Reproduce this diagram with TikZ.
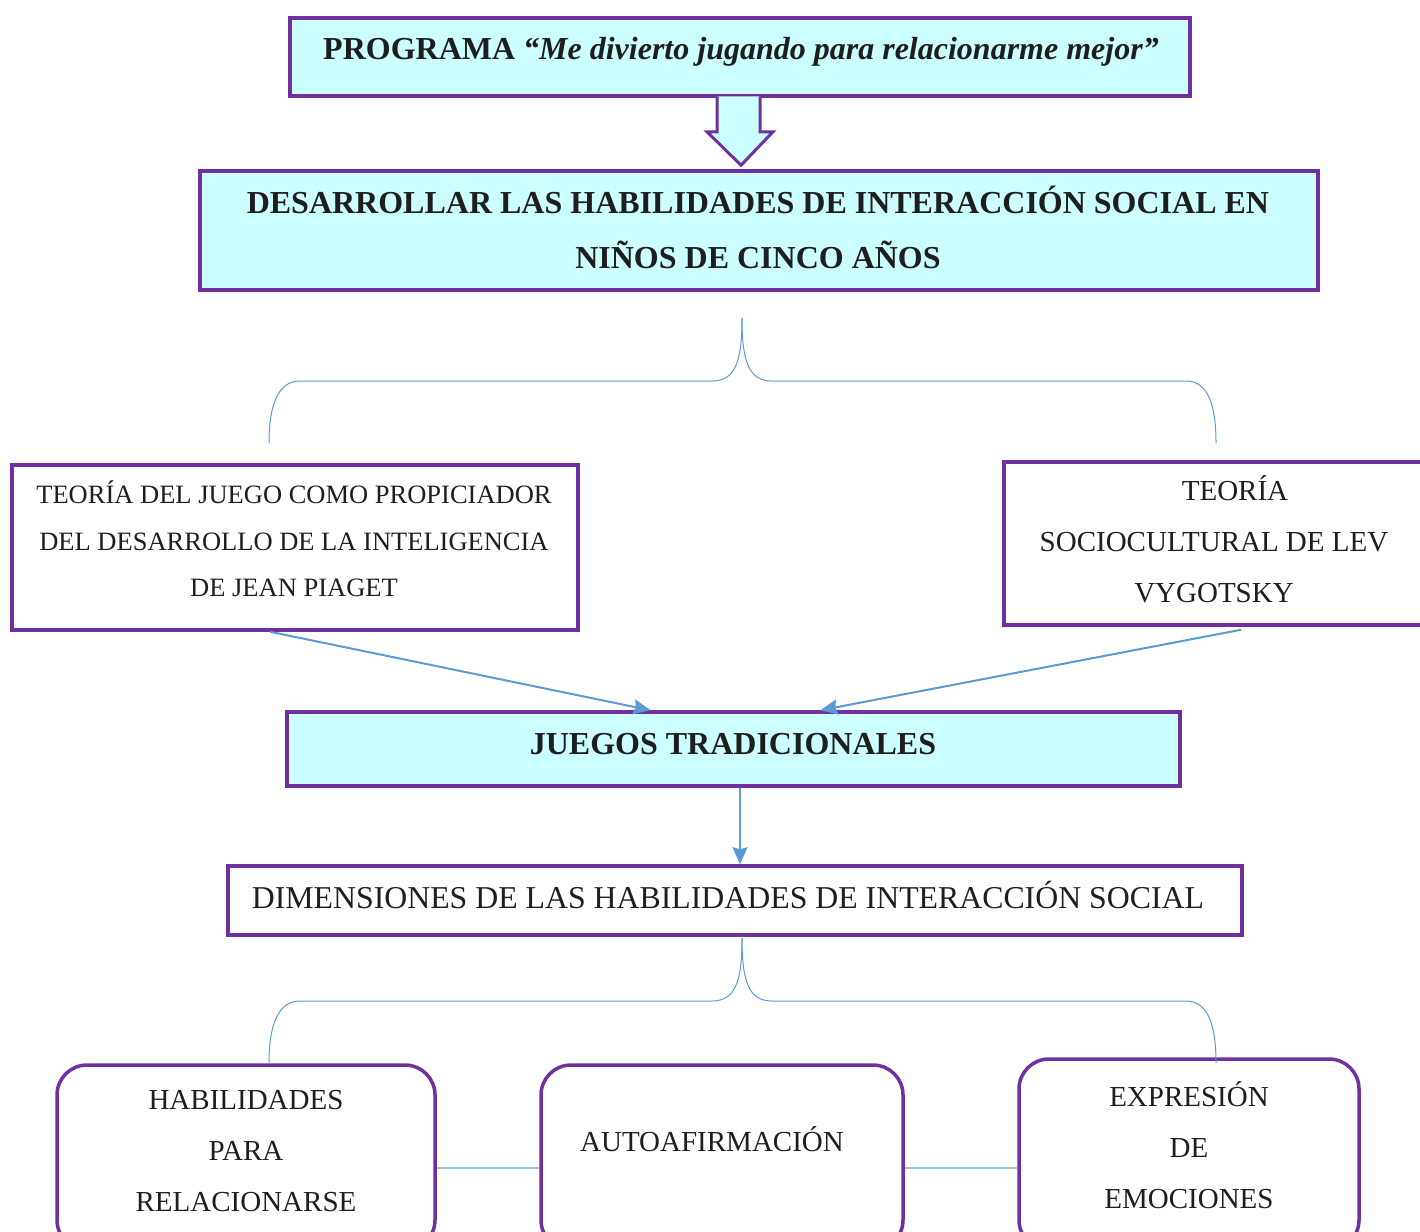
\documentclass[tikz,border=0pt]{standalone}
\usepackage{fontspec}
\setmainfont{Liberation Serif}
\usetikzlibrary{arrows.meta,calc}
\definecolor{lila}{HTML}{7030A0}
\definecolor{celeste}{HTML}{CCFFFF}
\definecolor{azul}{HTML}{5B9BD5}
\definecolor{azulclaro}{HTML}{9DC3E6}
\definecolor{tinta}{HTML}{1E1E1E}
\begin{document}
\begin{tikzpicture}[x=1pt,y=-1pt,
  caja/.style={draw=lila,line width=3.5pt,inner sep=0pt},
  cajacel/.style={caja,fill=celeste},
  cajaredonda/.style={caja,rounded corners=30pt},
  titulo/.style={text=tinta,font=\fontsize{32}{55}\selectfont\bfseries,align=center},
  texto/.style={text=tinta,font=\fontsize{29}{51}\selectfont,align=center},
  llave/.style={draw=azul,line width=1pt},
  flecha/.style={draw=azul,line width=2pt,-{Stealth[length=17pt,width=15pt,inset=2pt]}}]
\useasboundingbox (0,0) rectangle (1420,1231);
\clip (0,0) rectangle (1420,1231);
% cajas
\node[cajacel,minimum width=900pt,minimum height=78pt]
(prog) at (740,57) {};
\node[titulo]
(progtxt) at (741,52) {PROGRAMA \textit{“Me divierto jugando para relacionarme mejor”}};
\node[cajacel,minimum width=1118pt,minimum height=119pt]
(meta) at (759,230.5) {};
\node[titulo]
(metatxt) at (758,227) {DESARROLLAR LAS HABILIDADES DE INTERACCIÓN SOCIAL EN\\NIÑOS DE CINCO AÑOS};
\node[caja,fill=white,minimum width=566pt,minimum height=165pt]
(piaget) at (295,547.5) {};
\node[texto,font=\fontsize{26.5}{46.5}\selectfont]
(piagettxt) at (294,539) {TEORÍA DEL JUEGO COMO PROPICIADOR\\DEL DESARROLLO DE LA INTELIGENCIA\\DE JEAN PIAGET};
\node[caja,fill=white,minimum width=436pt,minimum height=163pt]
(vyg) at (1222,543.5) {};
\node[texto]
(vygtxt) at (1214,539.5) {\hspace*{42pt}TEORÍA\\SOCIOCULTURAL DE LEV\\VYGOTSKY};
\node[cajacel,minimum width=893pt,minimum height=74pt]
(juegos) at (733.5,749) {};
\node[titulo]
(juegostxt) at (733,744) {JUEGOS TRADICIONALES};
\node[caja,fill=white,minimum width=1014pt,minimum height=69pt]
(dims) at (735,900.5) {};
\node[texto,font=\fontsize{31.8}{51}\selectfont]
(dimstxt) at (728,894.5) {DIMENSIONES DE LAS HABILIDADES DE INTERACCIÓN SOCIAL};
\node[cajaredonda,minimum width=378pt,minimum height=185pt]
(relac) at (246,1157.5) {};
\node[texto]
(relactxt) at (246,1151) {HABILIDADES\\PARA\\RELACIONARSE};
\node[cajaredonda,minimum width=362pt,minimum height=185pt]
(auto) at (722,1157.5) {};
\node[texto]
(autotxt) at (712,1139) {AUTOAFIRMACIÓN};
\node[cajaredonda,minimum width=340pt,minimum height=191pt]
(emoc) at (1189,1154.5) {};
\node[texto]
(emoctxt) at (1189,1145.5) {EXPRESIÓN\\DE\\EMOCIONES};
% flecha gruesa
\draw[draw=lila,fill=celeste,line width=3pt,line join=miter]
($(prog.south)+(-23,-1.5)$) -- ++(0,35.5) -- ++(-10,0) -- ($(meta.north)+(-18,-4)$)
-- ($(prog.south)+(33,34)$) -- ++(-13,0) -- ++(0,-35.5);
% llaves
\coordinate (ll1) at (742,318);
\coordinate (ll1a) at (269,443);
\coordinate (ll1b) at (1216,443);
\draw[llave] (ll1) .. controls (742,360) and (736,381) .. (712,381) -- (300,381)
.. controls (278,381) and (269,405) .. (ll1a);
\draw[llave] (ll1) .. controls (742,360) and (748,381) .. (772,381) -- (1186,381)
.. controls (1208,381) and (1216,405) .. (ll1b);
\coordinate (ll2) at (742,938);
\coordinate (ll2a) at (269,1063);
\coordinate (ll2b) at (1216,1063);
\draw[llave] (ll2) .. controls (742,980) and (736,1001) .. (712,1001) -- (300,1001)
.. controls (278,1001) and (269,1025) .. (ll2a);
\draw[llave] (ll2) .. controls (742,980) and (748,1001) .. (772,1001) -- (1186,1001)
.. controls (1208,1001) and (1216,1025) .. (ll2b);
% flechas
\draw[flecha] ([xshift=-25pt]piaget.south) -- ([xshift=-83pt]juegos.north);
\draw[flecha] ([xshift=19pt,yshift=-3pt]vyg.south) -- ([xshift=87pt]juegos.north);
\draw[flecha] ([xshift=6.5pt]juegos.south) -- ([xshift=5pt]dims.north);
\draw[azulclaro,line width=1.5pt] ([yshift=-10.5pt]relac.east) -- ([yshift=-10.5pt]auto.west);
\draw[azulclaro,line width=1.5pt] ([yshift=-10.5pt]auto.east) -- ([yshift=-13.5pt]emoc.west);
\end{tikzpicture}
\end{document}
